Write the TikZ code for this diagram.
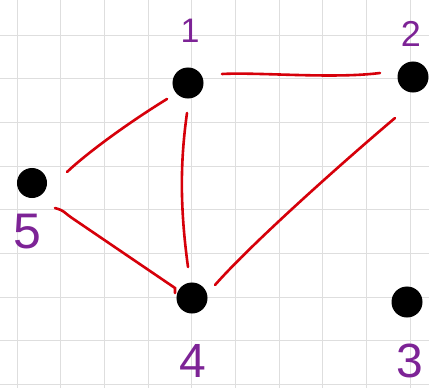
\documentclass[tikz,border=0pt]{standalone}
\usepackage{fontspec}
\setmainfont{Liberation Sans}
\usetikzlibrary{calc}
\definecolor{gridgray}{RGB}{222,222,222}
\definecolor{edgered}{RGB}{214,0,10}
\definecolor{labpurple}{RGB}{125,35,150}
\tikzset{
  dot/.style={circle,fill=black,draw=black,line width=1pt,minimum size=30pt,inner sep=0pt},
  edge/.style={draw=edgered,line width=2.6pt,line cap=round},
  lab/.style={text=labpurple,inner sep=0pt,font=\fontsize{#1}{#1}\selectfont},
}
\begin{document}
\begin{tikzpicture}[x=1pt,y=-1pt]
\useasboundingbox (0,0) rectangle (429,388);
\fill[white] (0,0) rectangle (429,388);
% grid
\foreach \i in {0,...,9} {
  \draw[gridgray,line width=0.9pt] ({17+43.7*\i},0) -- ({17+43.7*\i},388);
}
\foreach \j in {0,...,8} {
  \draw[gridgray,line width=0.9pt] (0,{35+43.7*\j}) -- (429,{35+43.7*\j});
}
% nodes
\node[dot] (d1) at (188,83) {};
\node[dot] (d2) at (413,77) {};
\node[dot] (d3) at (407,302) {};
\node[dot] (d4) at (192,298) {};
\node[dot,minimum size=29pt] (d5) at (32,183) {};
% labels
\node[lab=34] (l1) at (190,31) {1};
\node[lab=36] (l2) at (411,34) {2};
\node[lab=50] (l5) at (27,232) {5};
\node[lab=48] (l4) at (193,361) {4};
\node[lab=48] (l3) at (410,361) {3};
% edges
\draw[edge] ($(d1)+(34,-9)$) .. controls ($(d1)+(70,-11)$) and ($(d2)+(-80,2)$) .. ($(d2)+(-33,-4)$);
\draw[edge] ($(d5)+(35,-11)$) .. controls ($(d5)+(55,-30)$) and ($(d1)+(-60,40)$) .. ($(d1)+(-21,16)$);
\draw[edge] ($(d1)+(-1,30)$) .. controls ($(d1)+(-8,80)$) and ($(d4)+(-12,-90)$) .. ($(d4)+(-4,-31)$);
\draw[edge] ($(d5)+(23,25)$) .. controls ($(d5)+(33,28)$) and ($(d5)+(30,28)$) .. ($(d5)+(40,35)$) -- ($(d4)+(-17,-10)$) -- ($(d4)+(-17,-5)$);
\draw[edge] ($(d4)+(23,-13)$) .. controls ($(d4)+(60,-55)$) and ($(d2)+(-70,85)$) .. ($(d2)+(-18,41)$);
\end{tikzpicture}
\end{document}
